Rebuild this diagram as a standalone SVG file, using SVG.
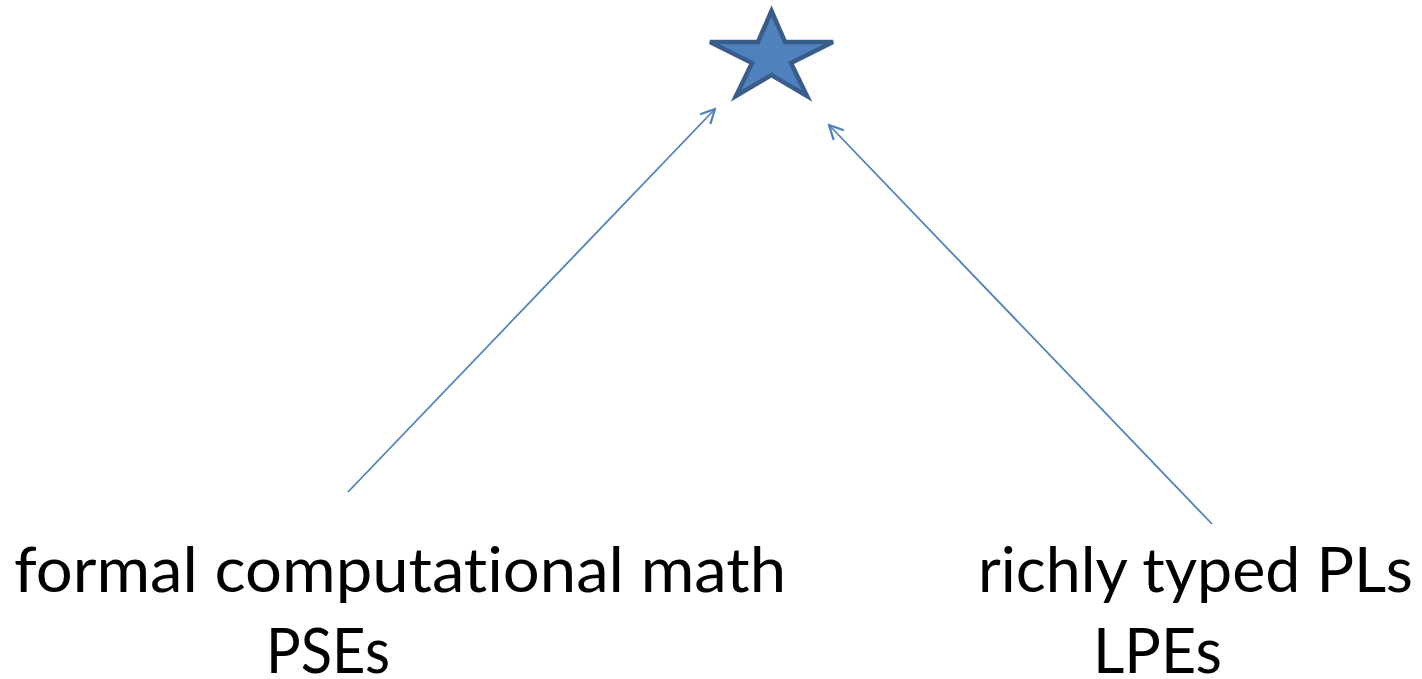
<svg xmlns="http://www.w3.org/2000/svg" width="1422" height="679" viewBox="0 0 1422 679">
<style>
.lbl{font-family:Lato,"Open Sans","Liberation Sans",sans-serif;font-size:62px;fill:#000;font-variant-ligatures:none;font-feature-settings:"liga" 0}
.conn{stroke:#4F81BD;stroke-width:1.8;fill:none}
</style>
<defs>
<marker id="open" viewBox="0 0 20 20" refX="18" refY="10" markerWidth="20" markerHeight="20" markerUnits="userSpaceOnUse" orient="auto">
<path d="M4,3 L18,10 L4,17" fill="none" stroke="#4F81BD" stroke-width="2.2"/>
</marker>
</defs>
<rect width="1422" height="679" fill="#fff"/>
<g id="star">
<polygon points="771.5,11 785,42 833,42 791,63 807,96 771.5,75 736,96 752,63 710,42 758,42" fill="#4F81BD" stroke="#385D8A" stroke-width="4.5" stroke-linejoin="miter"/>
</g>
<g id="connectors">
<line class="conn" x1="348" y1="492" x2="715" y2="109" marker-end="url(#open)"/>
<line class="conn" x1="1212" y1="524" x2="829" y2="125" marker-end="url(#open)"/>
</g>
<g id="left-node">
<text class="lbl" x="14" y="592" textLength="772" lengthAdjust="spacingAndGlyphs">formal computational math</text>
<text class="lbl" x="266" y="673" textLength="124" lengthAdjust="spacingAndGlyphs">PSEs</text>
</g>
<g id="right-node">
<text class="lbl" x="978" y="592" textLength="435" lengthAdjust="spacingAndGlyphs">richly typed PLs</text>
<text class="lbl" x="1093" y="673" textLength="129" lengthAdjust="spacingAndGlyphs">LPEs</text>
</g>
</svg>
